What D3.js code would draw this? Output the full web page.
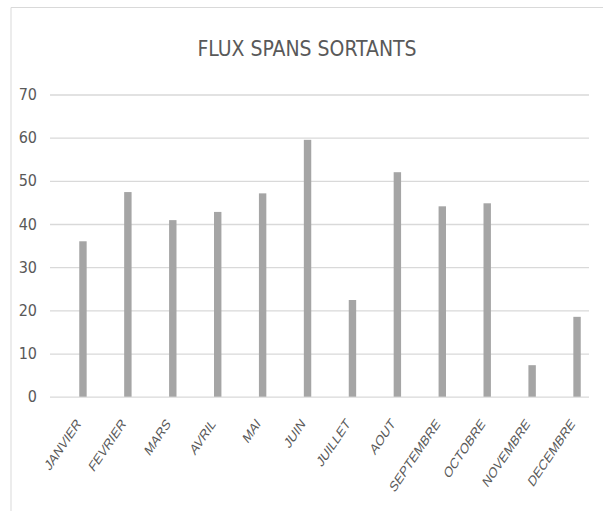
<!DOCTYPE html>
<html>
<head>
<meta charset="utf-8">
<script src="https://cdn.jsdelivr.net/npm/d3@7"></script>
<style>
    body { margin: 0; background: #fff; }
    #chart text { fill: #595959; }
</style>
</head>
<body>
<div id="chart"></div>
<script>
var months = ["JANVIER", "FEVRIER", "MARS", "AVRIL", "MAI", "JUIN", "JUILLET",
    "AOUT", "SEPTEMBRE", "OCTOBRE", "NOVEMBRE", "DECEMBRE"];
var flux = [36, 47.4, 40.9, 42.8, 47.1, 59.5, 22.4, 52, 44.1, 44.8, 7.3, 18.5];
var yTicks = [0, 10, 20, 30, 40, 50, 60, 70];
var title = "FLUX SPANS SORTANTS";

var width = 603;
var height = 511;

var svg = d3.select("#chart").append("svg")
    .attr("width", width)
    .attr("height", height);

// cadre du graphique (bords haut et gauche visibles)
svg.append("path")
    .attr("d", "M11,511 V7.5 H603")
    .attr("fill", "none")
    .attr("stroke", "#d9d9d9")
    .attr("stroke-width", 1);

svg.append("text")
    .attr("x", 307)
    .attr("y", 56)
    .attr("text-anchor", "middle")
    .style("font-family", "'Liberation Sans Narrow', 'DejaVu Sans Condensed', sans-serif")
    .style("font-size", "21px")
    .text(title);

var y = d3.scaleLinear()
    .domain([0, 70])
    .range([396.7, 94.5]);

var x = d3.scaleBand()
    .domain(months)
    .range([60.5, 599.5])
    .paddingInner(0.835)
    .paddingOuter(0.4175);

// grille + libelles de l'axe y
var yAxis = svg.append("g")
    .attr("transform", "translate(50,0)")
    .call(d3.axisLeft(y).tickValues(yTicks).tickSize(-539).tickPadding(13));
yAxis.select(".domain").remove();
yAxis.selectAll("line").attr("stroke", "#d9d9d9").attr("stroke-width", 1.3);
yAxis.selectAll("text")
    .style("font-family", "'Liberation Sans Narrow', 'DejaVu Sans Condensed', sans-serif")
    .style("font-size", "16px");

svg.selectAll(".bar")
    .data(flux)
    .enter().append("rect")
    .attr("class", "bar")
    .attr("x", (d, i) => x(months[i]))
    .attr("y", d => y(d))
    .attr("width", x.bandwidth())
    .attr("height", d => y(0) - y(d))
    .attr("fill", "#a5a5a5");

// libelles des mois, inclines (texte un peu comprime comme l'original)
svg.selectAll(".mois")
    .data(months)
    .enter().append("text")
    .attr("class", "mois")
    .attr("text-anchor", "end")
    .attr("transform", d => `translate(${x(d) + x.bandwidth() / 2 - 1.5},${424.5}) scale(0.75,1) rotate(-48)`)
    .style("font-family", "'Liberation Sans', Arial, sans-serif")
    .style("font-size", "15px")
    .text(d => d);
</script>
</body>
</html>
